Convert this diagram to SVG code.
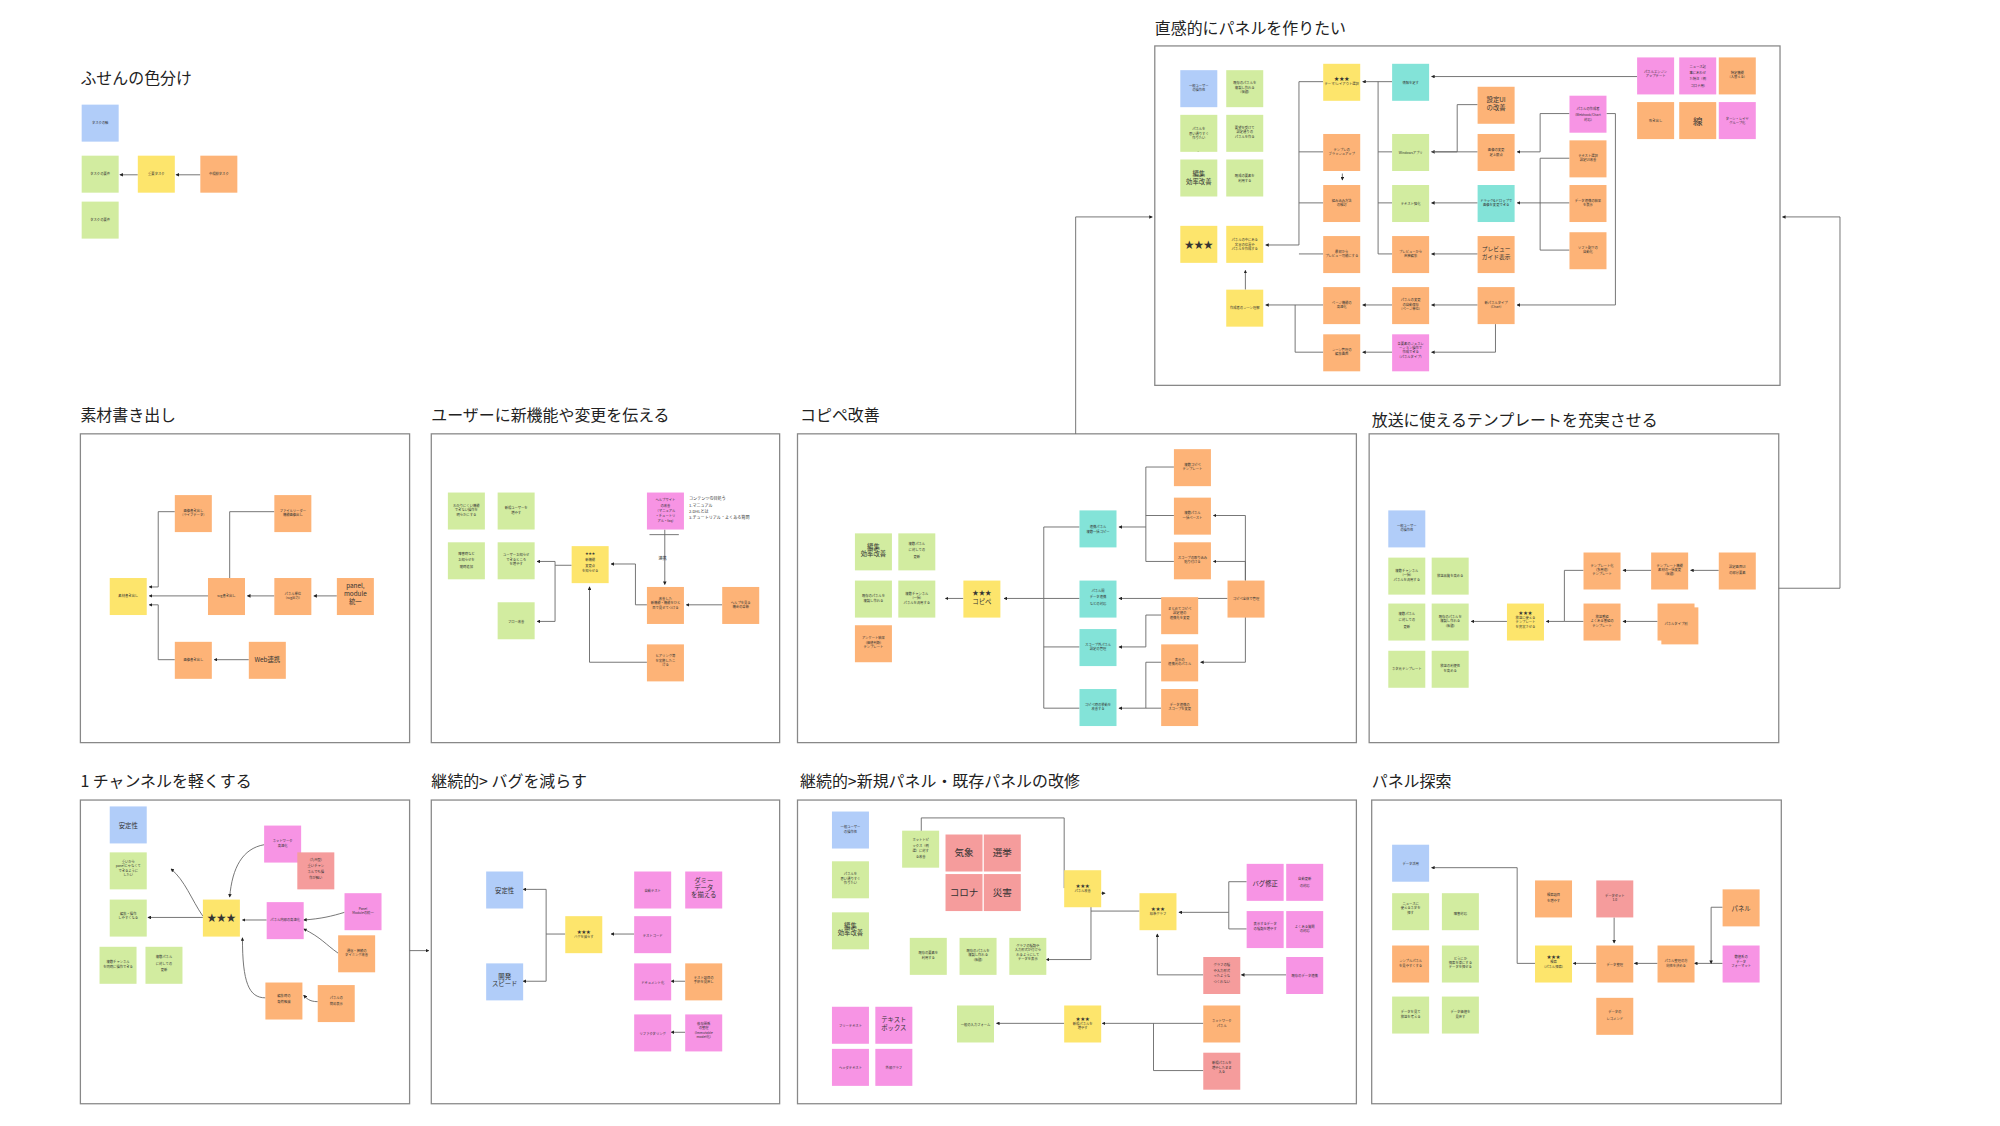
<svg xmlns="http://www.w3.org/2000/svg" width="2000" height="1126" viewBox="0 0 2000 1126">
<style>
.b{fill:#b1cdf9}.g{fill:#d2eca0}.y{fill:#fde56c}.o{fill:#fdb377}.p{fill:#f794e4}.t{fill:#83e3d8}.r{fill:#f59c9c}
.fr{fill:#fff;stroke:#888;stroke-width:1}
text{font-family:"Noto Sans CJK JP","Liberation Sans",sans-serif;fill:#333;text-anchor:middle}
.h{font-size:12.5px;text-anchor:start;fill:#222}
.s{font-size:2.6px}.m{font-size:5px}.l{font-size:7.5px}.x{font-size:9px}
.c{fill:none;stroke:#666;stroke-width:0.7}
.n{font-size:3.2px;text-anchor:start}
</style>
<defs><marker id="a" viewBox="0 0 6 6" refX="5" refY="3" markerWidth="4" markerHeight="4" orient="auto"><path d="M0,0L6,3L0,6z" fill="#222"/></marker></defs>
<rect width="2000" height="1126" fill="#fff"/>
<g transform="scale(1.276)">
<g id="frames">
<rect class="fr" x="905" y="36" width="490" height="266"/>
<rect class="fr" x="63" y="340" width="258" height="242"/>
<rect class="fr" x="338" y="340" width="273" height="242"/>
<rect class="fr" x="625" y="340" width="438" height="242"/>
<rect class="fr" x="1073" y="340" width="321" height="242"/>
<rect class="fr" x="63" y="627" width="258" height="238"/>
<rect class="fr" x="338" y="627" width="273" height="238"/>
<rect class="fr" x="625" y="627" width="438" height="238"/>
<rect class="fr" x="1075" y="627" width="321" height="238"/>
<text class="h" x="63" y="66">ふせんの色分け</text>
<text class="h" x="905" y="27">直感的にパネルを作りたい</text>
<text class="h" x="63" y="330">素材書き出し</text>
<text class="h" x="338" y="330">ユーザーに新機能や変更を伝える</text>
<text class="h" x="627" y="330">コピペ改善</text>
<text class="h" x="1075" y="334">放送に使えるテンプレートを充実させる</text>
<text class="h" x="63" y="617">1 チャンネルを軽くする</text>
<text class="h" x="338" y="617">継続的&gt; バグを減らす</text>
<text class="h" x="627" y="617">継続的&gt;新規パネル・既存パネルの改修</text>
<text class="h" x="1075" y="617">パネル探索</text>
</g>
<g id="connectors">
<path class="c" d="M843,340V170H903" marker-end="url(#a)"/>
<path class="c" d="M1394,461H1442V170H1397" marker-end="url(#a)"/>
<path class="c" d="M321,745H336" marker-end="url(#a)"/>
<path class="c" d="M108,137H94" marker-end="url(#a)"/>
<path class="c" d="M157,137H138" marker-end="url(#a)"/>
<path class="c" d="M1283,60H1122" marker-end="url(#a)"/>
<path class="c" d="M1091,64H1068" marker-end="url(#a)"/>
<path class="c" d="M1091,119H1080V64M1091,159H1080M1091,199H1080V119"/>
<path class="c" d="M1037,64H1018V192H992" marker-end="url(#a)"/>
<path class="c" d="M1037,119H1018M1037,159H1018M1037,199H1018"/>
<path class="c" d="M1158,82H1142V119H1122" marker-end="url(#a)"/>
<path class="c" d="M1158,119H1122"/>
<path class="c" d="M1230,89H1207V119H1189" marker-end="url(#a)"/>
<path class="c" d="M1230,124H1207V196H1230M1230,159H1189" marker-end="url(#a)"/>
<path class="c" d="M1158,159H1122" marker-end="url(#a)"/>
<path class="c" d="M1158,199H1122" marker-end="url(#a)"/>
<path class="c" d="M1259,89H1266V239H1189" marker-end="url(#a)"/>
<path class="c" d="M1158,239H1122" marker-end="url(#a)"/>
<path class="c" d="M1091,239H1068" marker-end="url(#a)"/>
<path class="c" d="M1037,239H992" marker-end="url(#a)"/>
<path class="c" d="M1037,276H1015V239"/>
<path class="c" d="M1172,254V276H1122" marker-end="url(#a)"/>
<path class="c" d="M1091,276H1068" marker-end="url(#a)"/>
<path class="c" d="M976,227V212" marker-end="url(#a)"/>
<path class="c" d="M939,114V119" marker-end="url(#a)"/>
<path class="c" d="M1052,136V141" marker-end="url(#a)"/>
<path class="c" d="M264,467H246" marker-end="url(#a)"/>
<path class="c" d="M215,467H194" marker-end="url(#a)"/>
<path class="c" d="M163,467H117" marker-end="url(#a)"/>
<path class="c" d="M215,401H180V453"/>
<path class="c" d="M137,401H124V460H117" marker-end="url(#a)"/>
<path class="c" d="M137,517H124V474H117" marker-end="url(#a)"/>
<path class="c" d="M195,517H168" marker-end="url(#a)"/>
<path class="c" d="M521,415V458" marker-end="url(#a)"/>
<text class="n" x="516" y="439">連携</text>
<path class="c" d="M566,474H538" marker-end="url(#a)"/>
<path class="c" d="M507,474H498V442H479" marker-end="url(#a)"/>
<path class="c" d="M507,519H462V460" marker-end="url(#a)"/>
<path class="c" d="M448,443H435V440H421" marker-end="url(#a)"/>
<path class="c" d="M435,443V487H421" marker-end="url(#a)"/>
<path class="c" d="M509,419H532" stroke="#9bc3f0"/>
<path class="c" d="M755,469H741" marker-end="url(#a)"/>
<path class="c" d="M846,413H818V555H846M818,469H787" marker-end="url(#a)"/>
<path class="c" d="M846,469H818M846,507H818"/>
<path class="c" d="M920,366H898V413H877" marker-end="url(#a)"/>
<path class="c" d="M920,404H898M920,440H898V413"/>
<path class="c" d="M962,469H877" marker-end="url(#a)"/>
<path class="c" d="M976,455V404H951" marker-end="url(#a)"/>
<path class="c" d="M976,455V440H951" marker-end="url(#a)"/>
<path class="c" d="M976,483V519H941" marker-end="url(#a)"/>
<path class="c" d="M910,482H898V507H877" marker-end="url(#a)"/>
<path class="c" d="M910,519H898V555H877" marker-end="url(#a)"/>
<path class="c" d="M910,555H898"/>
<path class="c" d="M1347,447H1325" marker-end="url(#a)"/>
<path class="c" d="M1294,447H1272" marker-end="url(#a)"/>
<path class="c" d="M1299,487H1272" marker-end="url(#a)"/>
<path class="c" d="M1241,447H1226V487H1212" marker-end="url(#a)"/>
<path class="c" d="M1241,487H1226"/>
<path class="c" d="M1181,487H1153" marker-end="url(#a)"/>
<path class="c" d="M207,662C190,665 182,680 180,703" marker-end="url(#a)"/>
<path class="c" d="M159,718C150,705 145,690 134,681" marker-end="url(#a)"/>
<path class="c" d="M159,719H116" marker-end="url(#a)"/>
<path class="c" d="M209,721H190" marker-end="url(#a)"/>
<path class="c" d="M270,715C260,718 252,720 238,721" marker-end="url(#a)"/>
<path class="c" d="M265,747C255,740 252,735 238,728" marker-end="url(#a)"/>
<path class="c" d="M208,782C195,782 190,770 190,735" marker-end="url(#a)"/>
<path class="c" d="M249,785C242,785 240,782 238,780" marker-end="url(#a)"/>
<path class="c" d="M497,732H479" marker-end="url(#a)"/>
<path class="c" d="M443,732H428V697H410" marker-end="url(#a)"/>
<path class="c" d="M428,732V769H410" marker-end="url(#a)"/>
<path class="c" d="M537,769H526" marker-end="url(#a)"/>
<path class="c" d="M537,809H526" marker-end="url(#a)"/>
<path class="c" d="M834,696V641H722V657" marker-end="url(#a)"/>
<path class="c" d="M893,714H855V700H866" marker-end="url(#a)"/>
<path class="c" d="M855,714V752H820" marker-end="url(#a)"/>
<path class="c" d="M977,691H963V715H924" marker-end="url(#a)"/>
<path class="c" d="M977,728H963V715"/>
<path class="c" d="M1008,764H973" marker-end="url(#a)"/>
<path class="c" d="M943,764H907V732" marker-end="url(#a)"/>
<path class="c" d="M943,802H864" marker-end="url(#a)"/>
<path class="c" d="M943,839H904V802"/>
<path class="c" d="M834,802H781" marker-end="url(#a)"/>
<path class="c" d="M1299,755H1281" marker-end="url(#a)"/>
<path class="c" d="M1350,755H1328" marker-end="url(#a)"/>
<path class="c" d="M1350,711H1341V755" marker-end="url(#a)"/>
<path class="c" d="M1251,755H1233" marker-end="url(#a)"/>
<path class="c" d="M1265,719V739" marker-end="url(#a)"/>
<path class="c" d="M1203,755H1189V680H1122" marker-end="url(#a)"/>
</g>
<g id="legend">
<g id="lg1"><rect class="b" x="64" y="82" width="29" height="29"/><text class="s" x="78.5" y="97">タスクの軸</text></g>
<g id="lg2"><rect class="g" x="64" y="122" width="29" height="29"/><text class="s" x="78.5" y="137">タスクの要件</text></g>
<g id="lg3"><rect class="y" x="108" y="122" width="29" height="29"/><text class="s" x="122.5" y="137">重要タスク</text></g>
<g id="lg4"><rect class="o" x="157" y="122" width="29" height="29"/><text class="s" x="171.5" y="137">中規模タスク</text></g>
<g id="lg5"><rect class="g" x="64" y="158" width="29" height="29"/><text class="s" x="78.5" y="173">タスクの要件</text></g>
</g>
<g id="intuitive">
<g id="i1"><rect class="b" x="925" y="55" width="29" height="29"/><text class="s" x="939.5" y="68"><tspan x="939.5">一般ユーザー</tspan><tspan x="939.5" dy="3.5">の操作性</tspan></text></g>
<g id="i2"><rect class="g" x="925" y="90" width="29" height="29"/><text class="s" x="939.5" y="102"><tspan x="939.5">パネルを</tspan><tspan x="939.5" dy="3.5">思い通りすぐ</tspan><tspan x="939.5" dy="3.5">作りたい</tspan></text></g>
<g id="i3"><rect class="g" x="925" y="125" width="29" height="29"/><text class="m" x="939.5" y="138"><tspan x="939.5">編集</tspan><tspan x="939.5" dy="6">効率改善</tspan></text></g>
<g id="i4"><rect class="y" x="925" y="177" width="29" height="29"/><text class="l" x="939.5" y="194">★★★</text></g>
<g id="i5"><rect class="g" x="961" y="55" width="29" height="29"/><text class="s" x="975.5" y="66"><tspan x="975.5">既存のパネルを</tspan><tspan x="975.5" dy="3.5">複製し作れる</tspan><tspan x="975.5" dy="3.5">(仮題)</tspan></text></g>
<g id="i6"><rect class="g" x="961" y="90" width="29" height="29"/><text class="s" x="975.5" y="101"><tspan x="975.5">要望を受けて</tspan><tspan x="975.5" dy="3.5">設定通りの</tspan><tspan x="975.5" dy="3.5">パネルを作る</tspan></text></g>
<g id="i7"><rect class="g" x="961" y="125" width="29" height="29"/><text class="s" x="975.5" y="139"><tspan x="975.5">既成の要素を</tspan><tspan x="975.5" dy="3.5">利用する</tspan></text></g>
<g id="i8"><rect class="y" x="961" y="177" width="29" height="29"/><text class="s" x="975.5" y="189"><tspan x="975.5">パネルの中にある</tspan><tspan x="975.5" dy="3.5">文言の位置や</tspan><tspan x="975.5" dy="3.5">パネルを作成する</tspan></text></g>
<g id="i9"><rect class="y" x="961" y="227" width="29" height="29"/><text class="s" x="975.5" y="242">作成者のシーン理解</text></g>
<g id="i10"><rect class="y" x="1037" y="50" width="29" height="29"/><text class="s" x="1051.5" y="63"><tspan x="1051.5" font-size="4">★★★</tspan><tspan x="1051.5" dy="3.5">テーマ/レイアウト選択</tspan></text></g>
<g id="i11"><rect class="o" x="1037" y="105" width="29" height="29"/><text class="s" x="1051.5" y="118"><tspan x="1051.5">テンプレの</tspan><tspan x="1051.5" dy="3.5">ブラッシュアップ</tspan></text></g>
<g id="i12"><rect class="o" x="1037" y="145" width="29" height="29"/><text class="s" x="1051.5" y="158"><tspan x="1051.5">組み込み方法</tspan><tspan x="1051.5" dy="3.5">の検討</tspan></text></g>
<g id="i13"><rect class="o" x="1037" y="185" width="29" height="29"/><text class="s" x="1051.5" y="198"><tspan x="1051.5">最初から</tspan><tspan x="1051.5" dy="3.5">プレビュー可能にする</tspan></text></g>
<g id="i14"><rect class="o" x="1037" y="225" width="29" height="29"/><text class="s" x="1051.5" y="238"><tspan x="1051.5">ページ機能の</tspan><tspan x="1051.5" dy="3.5">高速化</tspan></text></g>
<g id="i15"><rect class="o" x="1037" y="262" width="29" height="29"/><text class="s" x="1051.5" y="275"><tspan x="1051.5">シーン管理の</tspan><tspan x="1051.5" dy="3.5">編集画面</tspan></text></g>
<g id="i16"><rect class="t" x="1091" y="50" width="29" height="29"/><text class="s" x="1105.5" y="66">情報を足す</text></g>
<g id="i17"><rect class="g" x="1091" y="105" width="29" height="29"/><text class="s" x="1105.5" y="121">Windowsアプリ</text></g>
<g id="i18"><rect class="g" x="1091" y="145" width="29" height="29"/><text class="s" x="1105.5" y="161">テキスト強化</text></g>
<g id="i19"><rect class="o" x="1091" y="185" width="29" height="29"/><text class="s" x="1105.5" y="198"><tspan x="1105.5">プレビューから</tspan><tspan x="1105.5" dy="3.5">直接編集</tspan></text></g>
<g id="i20"><rect class="o" x="1091" y="225" width="29" height="29"/><text class="s" x="1105.5" y="236"><tspan x="1105.5">パネルの変更</tspan><tspan x="1105.5" dy="3.5">の自動保存</tspan><tspan x="1105.5" dy="3.5">(ページ単位)</tspan></text></g>
<g id="i21"><rect class="p" x="1091" y="262" width="29" height="29"/><text class="s" x="1105.5" y="270"><tspan x="1105.5">各要素のジェネレ</tspan><tspan x="1105.5" dy="3.5">ーション操作で</tspan><tspan x="1105.5" dy="3.5">作成できる</tspan><tspan x="1105.5" dy="3.5">(パネルタイプ)</tspan></text></g>
<g id="i22"><rect class="o" x="1158" y="68" width="29" height="29"/><text class="m" x="1172.5" y="80"><tspan x="1172.5">設定UI</tspan><tspan x="1172.5" dy="6">の改善</tspan></text></g>
<g id="i23"><rect class="o" x="1158" y="105" width="29" height="29"/><text class="s" x="1172.5" y="118" font-size="3.6"><tspan x="1172.5">画像の変更</tspan><tspan x="1172.5" dy="4.5">足上限点</tspan></text></g>
<g id="i24"><rect class="t" x="1158" y="145" width="29" height="29"/><text class="s" x="1172.5" y="158"><tspan x="1172.5">ドラッグ&amp;ドロップで</tspan><tspan x="1172.5" dy="3.5">画像を変更できる</tspan></text></g>
<g id="i25"><rect class="o" x="1158" y="185" width="29" height="29"/><text class="m" x="1172.5" y="197"><tspan x="1172.5" font-size="4.5">プレビュー</tspan><tspan x="1172.5" dy="6" font-size="4.5">ガイド表示</tspan></text></g>
<g id="i26"><rect class="o" x="1158" y="225" width="29" height="29"/><text class="s" x="1172.5" y="238"><tspan x="1172.5">新パネルタイプ</tspan><tspan x="1172.5" dy="3.5">(Chart)</tspan></text></g>
<g id="i27"><rect class="p" x="1230" y="75" width="29" height="29"/><text class="s" x="1244.5" y="86"><tspan x="1244.5">パネルの作成者</tspan><tspan x="1244.5" dy="5">(Webhook/Chart</tspan><tspan x="1244.5" dy="3.5">対応)</tspan></text></g>
<g id="i28"><rect class="o" x="1230" y="110" width="29" height="29"/><text class="s" x="1244.5" y="123"><tspan x="1244.5">テキスト選択</tspan><tspan x="1244.5" dy="3.5">設定UI改善</tspan></text></g>
<g id="i29"><rect class="o" x="1230" y="145" width="29" height="29"/><text class="s" x="1244.5" y="158"><tspan x="1244.5">データ連携の結果</tspan><tspan x="1244.5" dy="3.5">を表示</tspan></text></g>
<g id="i30"><rect class="o" x="1230" y="182" width="29" height="29"/><text class="s" x="1244.5" y="195"><tspan x="1244.5">ソフト配下の</tspan><tspan x="1244.5" dy="3.5">自動化</tspan></text></g>
<g id="i31"><rect class="p" x="1283" y="45" width="29" height="29"/><text class="s" x="1297.5" y="57"><tspan x="1297.5">パネルエンジン</tspan><tspan x="1297.5" dy="3.5">アップデート</tspan></text></g>
<g id="i32"><rect class="p" x="1316" y="45" width="29" height="29"/><text class="s" x="1330.5" y="53" font-size="4"><tspan x="1330.5">ニュース記</tspan><tspan x="1330.5" dy="5">事にあわせ</tspan><tspan x="1330.5" dy="5">た特注（例</tspan><tspan x="1330.5" dy="5">コロナ用)</tspan></text></g>
<g id="i33"><rect class="o" x="1347" y="45" width="29" height="29"/><text class="s" x="1361.5" y="58"><tspan x="1361.5">特定機能</tspan><tspan x="1361.5" dy="3.5">(入替える)</tspan></text></g>
<g id="i34"><rect class="o" x="1283" y="80" width="29" height="29"/><text class="s" x="1297.5" y="96" font-size="4.5">吹き出し</text></g>
<g id="i35"><rect class="o" x="1316" y="80" width="29" height="29"/><text class="l" x="1330.5" y="98">線</text></g>
<g id="i36"><rect class="p" x="1347" y="80" width="29" height="29"/><text class="s" x="1361.5" y="94"><tspan x="1361.5">ターン・レイヤ</tspan><tspan x="1361.5" dy="3.5">グループ化</tspan></text></g>
</g>
<g id="material">
<g id="m1"><rect class="y" x="86" y="453" width="29" height="29"/><text class="s" x="100.5" y="468">素材書き出し</text></g>
<g id="m2"><rect class="o" x="137" y="388" width="29" height="29"/><text class="s" x="151.5" y="401"><tspan x="151.5">画像書き出し</tspan><tspan x="151.5" dy="3.5">(ライブデータ)</tspan></text></g>
<g id="m3"><rect class="o" x="215" y="388" width="29" height="29"/><text class="s" x="229.5" y="401"><tspan x="229.5">ファイルリーダー</tspan><tspan x="229.5" dy="3.5">機能画像出し</tspan></text></g>
<g id="m4"><rect class="o" x="163" y="453" width="29" height="29"/><text class="s" x="177.5" y="468">svg書き出し</text></g>
<g id="m5"><rect class="o" x="215" y="453" width="29" height="29"/><text class="s" x="229.5" y="466"><tspan x="229.5">パネル単位</tspan><tspan x="229.5" dy="3.5">(svg出力)</tspan></text></g>
<g id="m6"><rect class="o" x="264" y="453" width="29" height="29"/><text class="m" x="278.5" y="461" font-size="4.6"><tspan x="278.5">panel,</tspan><tspan x="278.5" dy="6">module</tspan><tspan x="278.5" dy="6">統一</tspan></text></g>
<g id="m7"><rect class="o" x="137" y="503" width="29" height="29"/><text class="s" x="151.5" y="518">画像書き出し</text></g>
<g id="m8"><rect class="o" x="195" y="503" width="29" height="29"/><text class="m" x="209.5" y="519" font-size="4.6">Web連携</text></g>
</g>
<g id="users">
<g id="u1"><rect class="g" x="351" y="386" width="29" height="29"/><text class="s" x="365.5" y="397"><tspan x="365.5">わかりにくい機能</tspan><tspan x="365.5" dy="3.5">できない操作を</tspan><tspan x="365.5" dy="3.5">明らかにする</tspan></text></g>
<g id="u2"><rect class="g" x="390" y="386" width="29" height="29"/><text class="s" x="404.5" y="399"><tspan x="404.5">新規ユーザーを</tspan><tspan x="404.5" dy="3.5">増やす</tspan></text></g>
<g id="u3"><rect class="g" x="351" y="425" width="29" height="29"/><text class="s" x="365.5" y="435" font-size="3.6"><tspan x="365.5">障害時など</tspan><tspan x="365.5" dy="5">お知らせを</tspan><tspan x="365.5" dy="5">随時追加</tspan></text></g>
<g id="u4"><rect class="g" x="390" y="425" width="29" height="29"/><text class="s" x="404.5" y="436"><tspan x="404.5">ユーザーお知らせ</tspan><tspan x="404.5" dy="3.5">できるところ</tspan><tspan x="404.5" dy="3.5">を増やす</tspan></text></g>
<g id="u5"><rect class="g" x="390" y="472" width="29" height="29"/><text class="s" x="404.5" y="488" font-size="4">フロー改善</text></g>
<g id="u6"><rect class="y" x="448" y="428" width="29" height="29"/><text class="s" x="462.5" y="435" font-size="3.4"><tspan x="462.5">★★★</tspan><tspan x="462.5" dy="4.5">新機能</tspan><tspan x="462.5" dy="4.5">変更点</tspan><tspan x="462.5" dy="4.5">を知らせる</tspan></text></g>
<g id="u7"><rect class="p" x="507" y="386" width="29" height="29"/><text class="s" x="521.5" y="393"><tspan x="521.5">ヘルプサイト</tspan><tspan x="521.5" dy="4">の改善</tspan><tspan x="521.5" dy="4">（マニュアル</tspan><tspan x="521.5" dy="4">・チュートリ</tspan><tspan x="521.5" dy="4">アル・faq)</tspan></text></g>
<text class="n" x="540" y="392"><tspan x="540">コンテンツの目処う</tspan><tspan x="540" dy="5">1.マニュアル</tspan><tspan x="540" dy="5">2.DHLとは</tspan><tspan x="540" dy="5">3.チュートリアル・よくある質問</tspan></text>
<g id="u8"><rect class="o" x="507" y="460" width="29" height="29"/><text class="s" x="521.5" y="470"><tspan x="521.5">改善した</tspan><tspan x="521.5" dy="3.5">新機能・機能をひと</tspan><tspan x="521.5" dy="3.5">目で見せてつける</tspan></text></g>
<g id="u9"><rect class="o" x="566" y="460" width="29" height="29"/><text class="s" x="580.5" y="473"><tspan x="580.5">ヘルプを見る</tspan><tspan x="580.5" dy="3.5">機会の革新</tspan></text></g>
<g id="u10"><rect class="o" x="507" y="505" width="29" height="29"/><text class="s" x="521.5" y="515"><tspan x="521.5">ヒアリング等</tspan><tspan x="521.5" dy="3.5">を実施したこ</tspan><tspan x="521.5" dy="3.5">ける</tspan></text></g>
</g>
<g id="copipe">
<g id="cp1"><rect class="g" x="670" y="418" width="29" height="29"/><text class="m" x="684.5" y="430" font-size="4.2"><tspan x="684.5">編集</tspan><tspan x="684.5" dy="5.5">効率改善</tspan></text></g>
<g id="cp2"><rect class="g" x="704" y="418" width="29" height="29"/><text class="s" x="718.5" y="427" font-size="3.6"><tspan x="718.5">複数パネル</tspan><tspan x="718.5" dy="5">に対しての</tspan><tspan x="718.5" dy="5">更新</tspan></text></g>
<g id="cp3"><rect class="g" x="670" y="455" width="29" height="29"/><text class="s" x="684.5" y="468"><tspan x="684.5">既存のパネルを</tspan><tspan x="684.5" dy="3.5">複製し作れる</tspan></text></g>
<g id="cp4"><rect class="g" x="704" y="455" width="29" height="29"/><text class="s" x="718.5" y="466"><tspan x="718.5">複数チャンネル</tspan><tspan x="718.5" dy="3.5">(一括)</tspan><tspan x="718.5" dy="3.5">パネルを流用する</tspan></text></g>
<g id="cp5"><rect class="o" x="670" y="490" width="29" height="29"/><text class="s" x="684.5" y="501"><tspan x="684.5">アンケート結果</tspan><tspan x="684.5" dy="3.5">(価値判断)</tspan><tspan x="684.5" dy="3.5">テンプレート</tspan></text></g>
<g id="cp6"><rect class="y" x="755" y="455" width="29" height="29"/><text class="m" x="769.5" y="466" font-size="5.2"><tspan x="769.5">★★★</tspan><tspan x="769.5" dy="7">コピペ</tspan></text></g>
<g id="cp7"><rect class="t" x="846" y="400" width="29" height="29"/><text class="s" x="860.5" y="414"><tspan x="860.5">連携パネル</tspan><tspan x="860.5" dy="3.5">複数一括コピー</tspan></text></g>
<g id="cp8"><rect class="t" x="846" y="455" width="29" height="29"/><text class="s" x="860.5" y="464" font-size="3.6"><tspan x="860.5">パネル間</tspan><tspan x="860.5" dy="5">データ連携</tspan><tspan x="860.5" dy="5">などの対応</tspan></text></g>
<g id="cp9"><rect class="t" x="846" y="493" width="29" height="29"/><text class="s" x="860.5" y="506"><tspan x="860.5">スコープ外パネル</tspan><tspan x="860.5" dy="3.5">設定の管理</tspan></text></g>
<g id="cp10"><rect class="t" x="846" y="540" width="29" height="29"/><text class="s" x="860.5" y="553"><tspan x="860.5">コピペ時の挙動を</tspan><tspan x="860.5" dy="3.5">改善する</tspan></text></g>
<g id="cp11"><rect class="o" x="920" y="352" width="29" height="29"/><text class="s" x="934.5" y="365"><tspan x="934.5">複数コピペ</tspan><tspan x="934.5" dy="3.5">テンプレート</tspan></text></g>
<g id="cp12"><rect class="o" x="920" y="390" width="29" height="29"/><text class="s" x="934.5" y="403"><tspan x="934.5">複数パネル</tspan><tspan x="934.5" dy="3.5">一括ペースト</tspan></text></g>
<g id="cp13"><rect class="o" x="920" y="425" width="29" height="29"/><text class="s" x="934.5" y="438"><tspan x="934.5">スコープの取り込み</tspan><tspan x="934.5" dy="3.5">貼り付ける</tspan></text></g>
<g id="cp14"><rect class="o" x="910" y="468" width="29" height="29"/><text class="s" x="924.5" y="478"><tspan x="924.5">まとめてコピペ</tspan><tspan x="924.5" dy="3.5">設定値の</tspan><tspan x="924.5" dy="3.5">連携先を変更</tspan></text></g>
<g id="cp15"><rect class="o" x="910" y="505" width="29" height="29"/><text class="s" x="924.5" y="518"><tspan x="924.5">表示の</tspan><tspan x="924.5" dy="3.5">連携元のパネル</tspan></text></g>
<g id="cp16"><rect class="o" x="910" y="540" width="29" height="29"/><text class="s" x="924.5" y="553"><tspan x="924.5">データ連携の</tspan><tspan x="924.5" dy="3.5">スコープを変更</tspan></text></g>
<g id="cp17"><rect class="o" x="962" y="455" width="29" height="29"/><text class="s" x="976.5" y="470">コピペ全体で管理</text></g>
</g>
<g id="broadcast">
<g id="bc1"><rect class="b" x="1088" y="400" width="29" height="29"/><text class="s" x="1102.5" y="413"><tspan x="1102.5">一般ユーザー</tspan><tspan x="1102.5" dy="3.5">の操作性</tspan></text></g>
<g id="bc2"><rect class="g" x="1088" y="437" width="29" height="29"/><text class="s" x="1102.5" y="448"><tspan x="1102.5">複数チャンネル</tspan><tspan x="1102.5" dy="3.5">(一括)</tspan><tspan x="1102.5" dy="3.5">パネルを流用する</tspan></text></g>
<g id="bc3"><rect class="g" x="1122" y="437" width="29" height="29"/><text class="s" x="1136.5" y="452">放送品質を高める</text></g>
<g id="bc4"><rect class="g" x="1088" y="473" width="29" height="29"/><text class="s" x="1102.5" y="482" font-size="3.6"><tspan x="1102.5">複数パネル</tspan><tspan x="1102.5" dy="5">に対しての</tspan><tspan x="1102.5" dy="5">更新</tspan></text></g>
<g id="bc5"><rect class="g" x="1122" y="473" width="29" height="29"/><text class="s" x="1136.5" y="484"><tspan x="1136.5">既存のパネルを</tspan><tspan x="1136.5" dy="3.5">複製し作れる</tspan><tspan x="1136.5" dy="3.5">(仮題)</tspan></text></g>
<g id="bc6"><rect class="g" x="1088" y="510" width="29" height="29"/><text class="s" x="1102.5" y="525">ネタ元テンプレート</text></g>
<g id="bc7"><rect class="g" x="1122" y="510" width="29" height="29"/><text class="s" x="1136.5" y="523"><tspan x="1136.5">放送の利便性</tspan><tspan x="1136.5" dy="3.5">を高める</tspan></text></g>
<g id="bc8"><rect class="y" x="1181" y="473" width="29" height="29"/><text class="s" x="1195.5" y="481"><tspan x="1195.5" font-size="3.6">★★★</tspan><tspan x="1195.5" dy="4">放送に使える</tspan><tspan x="1195.5" dy="3.5">テンプレート</tspan><tspan x="1195.5" dy="3.5">を充実させる</tspan></text></g>
<g id="bc9"><rect class="o" x="1241" y="433" width="29" height="29"/><text class="s" x="1255.5" y="444"><tspan x="1255.5">テンプレート化</tspan><tspan x="1255.5" dy="3.5">(多用途)</tspan><tspan x="1255.5" dy="3.5">テンプレート</tspan></text></g>
<g id="bc10"><rect class="o" x="1241" y="473" width="29" height="29"/><text class="s" x="1255.5" y="484"><tspan x="1255.5">放送番組</tspan><tspan x="1255.5" dy="3.5">よくある番組の</tspan><tspan x="1255.5" dy="3.5">テンプレート</tspan></text></g>
<g id="bc11"><rect class="o" x="1294" y="433" width="29" height="29"/><text class="s" x="1308.5" y="444"><tspan x="1308.5">テンプレート機能</tspan><tspan x="1308.5" dy="3.5">素材の一括変更</tspan><tspan x="1308.5" dy="3.5">(仮題)</tspan></text></g>
<g id="bc12"><rect class="o" x="1302" y="476" width="29" height="29"/><rect class="o" x="1299" y="473" width="29" height="29"/><text class="s" x="1313.5" y="490">パネルタイプ別</text></g>
<g id="bc13"><rect class="o" x="1347" y="433" width="29" height="29"/><text class="s" x="1361.5" y="445" font-size="3.8"><tspan x="1361.5">設定画面UI</tspan><tspan x="1361.5" dy="5">の部分要素</tspan></text></g>
</g>
<g id="channel">
<g id="ch1"><rect class="b" x="86" y="632" width="29" height="29"/><text class="m" x="100.5" y="649" font-size="5">安定性</text></g>
<g id="ch2"><rect class="g" x="86" y="668" width="29" height="29"/><text class="s" x="100.5" y="676"><tspan x="100.5">重いから</tspan><tspan x="100.5" dy="3.5">panelじゃなくて</tspan><tspan x="100.5" dy="3.5">できるように</tspan><tspan x="100.5" dy="3.5">したい</tspan></text></g>
<g id="ch3"><rect class="g" x="86" y="705" width="29" height="29"/><text class="s" x="100.5" y="717"><tspan x="100.5">編集・操作</tspan><tspan x="100.5" dy="3.5">しやすくなる</tspan></text></g>
<g id="ch4"><rect class="g" x="78" y="742" width="29" height="29"/><text class="s" x="92.5" y="755"><tspan x="92.5">複数チャンネル</tspan><tspan x="92.5" dy="3.5">を同時に操作できる</tspan></text></g>
<g id="ch5"><rect class="g" x="114" y="742" width="29" height="29"/><text class="s" x="128.5" y="751" font-size="3.6"><tspan x="128.5">複数パネル</tspan><tspan x="128.5" dy="5">に対しての</tspan><tspan x="128.5" dy="5">更新</tspan></text></g>
<g id="ch6"><rect class="y" x="159" y="705" width="29" height="29"/><text class="l" x="173.5" y="722" font-size="6">★★★</text></g>
<g id="ch7"><rect class="p" x="207" y="647" width="29" height="29"/><text class="s" x="221.5" y="660"><tspan x="221.5">ネットワーク</tspan><tspan x="221.5" dy="3.5">高速化</tspan></text></g>
<g id="ch8"><rect class="r" x="233" y="668" width="29" height="29"/><text class="s" x="247.5" y="675" font-size="3.4"><tspan x="247.5">(九州型)</tspan><tspan x="247.5" dy="4.5">重いチャン</tspan><tspan x="247.5" dy="4.5">ネルでも操</tspan><tspan x="247.5" dy="4.5">作が軽い</tspan></text></g>
<g id="ch9"><rect class="p" x="209" y="707" width="29" height="29"/><text class="s" x="223.5" y="722">パネル内部の高速化</text></g>
<g id="ch10"><rect class="p" x="270" y="700" width="29" height="29"/><text class="s" x="284.5" y="713"><tspan x="284.5">Panel</tspan><tspan x="284.5" dy="3.5">Moduleの統一</tspan></text></g>
<g id="ch11"><rect class="o" x="265" y="733" width="29" height="29"/><text class="s" x="279.5" y="746"><tspan x="279.5">通信・接続の</tspan><tspan x="279.5" dy="3.5">タイミング改善</tspan></text></g>
<g id="ch12"><rect class="o" x="208" y="770" width="29" height="29"/><text class="s" x="222.5" y="781" font-size="3.8"><tspan x="222.5">編集時の</tspan><tspan x="222.5" dy="5">負荷軽減</tspan></text></g>
<g id="ch13"><rect class="o" x="249" y="772" width="29" height="29"/><text class="s" x="263.5" y="783" font-size="3.8"><tspan x="263.5">パネルの</tspan><tspan x="263.5" dy="5">簡易表示</tspan></text></g>
</g>
<g id="bugs">
<g id="bg1"><rect class="b" x="381" y="683" width="29" height="29"/><text class="m" x="395.5" y="700" font-size="4.6">安定性</text></g>
<g id="bg2"><rect class="b" x="381" y="755" width="29" height="29"/><text class="m" x="395.5" y="767" font-size="4.4"><tspan x="395.5">開発</tspan><tspan x="395.5" dy="6">スピード</tspan></text></g>
<g id="bg3"><rect class="y" x="443" y="718" width="29" height="29"/><text class="s" x="457.5" y="731"><tspan x="457.5" font-size="3.6">★★★</tspan><tspan x="457.5" dy="4">バグを減らす</tspan></text></g>
<g id="bg4"><rect class="p" x="497" y="683" width="29" height="29"/><text class="s" x="511.5" y="699" font-size="3.4">自動テスト</text></g>
<g id="bg5"><rect class="p" x="537" y="683" width="29" height="29"/><text class="m" x="551.5" y="692" font-size="4"><tspan x="551.5">ダミー</tspan><tspan x="551.5" dy="5.5">データ</tspan><tspan x="551.5" dy="5.5">を揃える</tspan></text></g>
<g id="bg6"><rect class="p" x="497" y="718" width="29" height="29"/><text class="s" x="511.5" y="734">テストコード</text></g>
<g id="bg7"><rect class="p" x="497" y="755" width="29" height="29"/><text class="s" x="511.5" y="771">ドキュメント化</text></g>
<g id="bg8"><rect class="o" x="537" y="755" width="29" height="29"/><text class="s" x="551.5" y="767"><tspan x="551.5">テスト項目の</tspan><tspan x="551.5" dy="3.5">手順を見直し</tspan></text></g>
<g id="bg9"><rect class="p" x="497" y="795" width="29" height="29"/><text class="s" x="511.5" y="811">リファクタリング</text></g>
<g id="bg10"><rect class="p" x="537" y="795" width="29" height="29"/><text class="s" x="551.5" y="803"><tspan x="551.5">依存関係</tspan><tspan x="551.5" dy="3.5">の整理</tspan><tspan x="551.5" dy="3.5">(Immutable</tspan><tspan x="551.5" dy="3.5">model化)</tspan></text></g>
</g>
<g id="newpanel">
<g id="np1"><rect class="b" x="652" y="636" width="29" height="29"/><text class="s" x="666.5" y="649"><tspan x="666.5">一般ユーザー</tspan><tspan x="666.5" dy="3.5">の操作性</tspan></text></g>
<g id="np2"><rect class="g" x="652" y="675" width="29" height="29"/><text class="s" x="666.5" y="686"><tspan x="666.5">パネルを</tspan><tspan x="666.5" dy="3.5">思い通りすぐ</tspan><tspan x="666.5" dy="3.5">作りたい</tspan></text></g>
<g id="np3"><rect class="g" x="652" y="715" width="29" height="29"/><text class="m" x="666.5" y="727" font-size="4.2"><tspan x="666.5">編集</tspan><tspan x="666.5" dy="5.5">効率改善</tspan></text></g>
<g id="np4"><rect class="g" x="707" y="651" width="29" height="29"/><text class="s" x="721.5" y="659" font-size="3.4"><tspan x="721.5">ホットトピ</tspan><tspan x="721.5" dy="4.5">ックス（例</tspan><tspan x="721.5" dy="4.5">選）に対す</tspan><tspan x="721.5" dy="4.5">る改善</tspan></text></g>
<g id="np5"><rect class="r" x="741" y="654" width="29" height="29"/><text class="l" x="755.5" y="671">気象</text></g>
<g id="np6"><rect class="r" x="771" y="654" width="29" height="29"/><text class="l" x="785.5" y="671">選挙</text></g>
<g id="np7"><rect class="r" x="741" y="685" width="29" height="29"/><text class="l" x="755.5" y="702">コロナ</text></g>
<g id="np8"><rect class="r" x="771" y="685" width="29" height="29"/><text class="l" x="785.5" y="702">災害</text></g>
<g id="np9"><rect class="y" x="834" y="682" width="29" height="29"/><text class="s" x="848.5" y="695"><tspan x="848.5" font-size="3.6">★★★</tspan><tspan x="848.5" dy="4">パネル改善</tspan></text></g>
<g id="np10"><rect class="y" x="893" y="700" width="29" height="29"/><text class="s" x="907.5" y="713"><tspan x="907.5" font-size="3.6">★★★</tspan><tspan x="907.5" dy="4">標準グラフ</tspan></text></g>
<g id="np11"><rect class="p" x="977" y="677" width="29" height="29"/><text class="m" x="991.5" y="694" font-size="4.2">バグ修正</text></g>
<g id="np12"><rect class="p" x="1008" y="677" width="29" height="29"/><text class="s" x="1022.5" y="690" font-size="3.8"><tspan x="1022.5">自動更新</tspan><tspan x="1022.5" dy="5">の対応</tspan></text></g>
<g id="np13"><rect class="p" x="977" y="714" width="29" height="29"/><text class="s" x="991.5" y="725"><tspan x="991.5">表示するデータ</tspan><tspan x="991.5" dy="3.5">の種類を増やす</tspan></text></g>
<g id="np14"><rect class="p" x="1008" y="714" width="29" height="29"/><text class="s" x="1022.5" y="727"><tspan x="1022.5">よくある質問</tspan><tspan x="1022.5" dy="3.5">の対応</tspan></text></g>
<g id="np15"><rect class="g" x="713" y="735" width="29" height="29"/><text class="s" x="727.5" y="748"><tspan x="727.5">既存の要素を</tspan><tspan x="727.5" dy="3.5">利用する</tspan></text></g>
<g id="np16"><rect class="g" x="752" y="735" width="29" height="29"/><text class="s" x="766.5" y="746"><tspan x="766.5">既存のパネルを</tspan><tspan x="766.5" dy="3.5">複製し作れる</tspan><tspan x="766.5" dy="3.5">(仮題)</tspan></text></g>
<g id="np17"><rect class="g" x="791" y="735" width="29" height="29"/><text class="s" x="805.5" y="742"><tspan x="805.5">グラフの種類や</tspan><tspan x="805.5" dy="3.5">入力形式が付けら</tspan><tspan x="805.5" dy="3.5">れるようにして</tspan><tspan x="805.5" dy="3.5">データを表示</tspan></text></g>
<g id="np18"><rect class="r" x="943" y="750" width="29" height="29"/><text class="s" x="957.5" y="757" font-size="3.4"><tspan x="957.5">グラフの種</tspan><tspan x="957.5" dy="4.5">や入力形式</tspan><tspan x="957.5" dy="4.5">ったような</tspan><tspan x="957.5" dy="4.5">つくれない</tspan></text></g>
<g id="np19"><rect class="p" x="1008" y="750" width="29" height="29"/><text class="s" x="1022.5" y="766">既存のデータ連携</text></g>
<g id="np20"><rect class="p" x="652" y="789" width="29" height="29"/><text class="s" x="666.5" y="805">フリーテキスト</text></g>
<g id="np21"><rect class="p" x="686" y="789" width="29" height="29"/><text class="m" x="700.5" y="801" font-size="4.4"><tspan x="700.5">テキスト</tspan><tspan x="700.5" dy="6">ボックス</tspan></text></g>
<g id="np22"><rect class="p" x="652" y="822" width="29" height="29"/><text class="s" x="666.5" y="838">ヘッダテキスト</text></g>
<g id="np23"><rect class="p" x="686" y="822" width="29" height="29"/><text class="s" x="700.5" y="838">外部グラフ</text></g>
<g id="np24"><rect class="g" x="750" y="788" width="29" height="29"/><text class="s" x="764.5" y="804">一般の入力フォーム</text></g>
<g id="np25"><rect class="y" x="834" y="788" width="29" height="29"/><text class="s" x="848.5" y="799"><tspan x="848.5" font-size="3.6">★★★</tspan><tspan x="848.5" dy="4">新規パネルを</tspan><tspan x="848.5" dy="3.5">増やす</tspan></text></g>
<g id="np26"><rect class="o" x="943" y="788" width="29" height="29"/><text class="s" x="957.5" y="801"><tspan x="957.5">ネットワーク</tspan><tspan x="957.5" dy="3.5">パネル</tspan></text></g>
<g id="np27"><rect class="r" x="943" y="825" width="29" height="29"/><text class="s" x="957.5" y="834"><tspan x="957.5">新規パネルを</tspan><tspan x="957.5" dy="3.5">増やしたまま</tspan><tspan x="957.5" dy="3.5">入る</tspan></text></g>
</g>
<g id="explore">
<g id="ex1"><rect class="b" x="1091" y="662" width="29" height="29"/><text class="s" x="1105.5" y="678">データ活用</text></g>
<g id="ex2"><rect class="g" x="1091" y="700" width="29" height="29"/><text class="s" x="1105.5" y="709"><tspan x="1105.5">ニュースに</tspan><tspan x="1105.5" dy="3.5">使えるネタを</tspan><tspan x="1105.5" dy="3.5">探す</tspan></text></g>
<g id="ex3"><rect class="g" x="1130" y="700" width="29" height="29"/><text class="s" x="1144.5" y="717" font-size="3.8">障害対応</text></g>
<g id="ex4"><rect class="o" x="1091" y="741" width="29" height="29"/><text class="s" x="1105.5" y="754"><tspan x="1105.5">シンプルパネル</tspan><tspan x="1105.5" dy="3.5">を見やすくする</tspan></text></g>
<g id="ex5"><rect class="g" x="1130" y="741" width="29" height="29"/><text class="s" x="1144.5" y="752"><tspan x="1144.5">どうにか</tspan><tspan x="1144.5" dy="3.5">探索を楽にする</tspan><tspan x="1144.5" dy="3.5">データを探せる</tspan></text></g>
<g id="ex6"><rect class="g" x="1091" y="781" width="29" height="29"/><text class="s" x="1105.5" y="794"><tspan x="1105.5">データを見て</tspan><tspan x="1105.5" dy="3.5">放送を考える</tspan></text></g>
<g id="ex7"><rect class="g" x="1130" y="781" width="29" height="29"/><text class="s" x="1144.5" y="794"><tspan x="1144.5">データ価値を</tspan><tspan x="1144.5" dy="3.5">見直す</tspan></text></g>
<g id="ex8"><rect class="o" x="1203" y="690" width="29" height="29"/><text class="s" x="1217.5" y="702" font-size="3.8"><tspan x="1217.5">検索項目</tspan><tspan x="1217.5" dy="5">を増やす</tspan></text></g>
<g id="ex9"><rect class="r" x="1251" y="690" width="29" height="29"/><text class="s" x="1265.5" y="703"><tspan x="1265.5">データセット</tspan><tspan x="1265.5" dy="3.5">1.0</tspan></text></g>
<g id="ex10"><rect class="y" x="1203" y="741" width="29" height="29"/><text class="s" x="1217.5" y="751"><tspan x="1217.5" font-size="3.6">★★★</tspan><tspan x="1217.5" dy="4">検索</tspan><tspan x="1217.5" dy="3.5">(パネル探索)</tspan></text></g>
<g id="ex11"><rect class="o" x="1251" y="741" width="29" height="29"/><text class="s" x="1265.5" y="757" font-size="3.8">データ整理</text></g>
<g id="ex12"><rect class="o" x="1299" y="741" width="29" height="29"/><text class="s" x="1313.5" y="754"><tspan x="1313.5">パネル整理の方</tspan><tspan x="1313.5" dy="3.5">向性を決める</tspan></text></g>
<g id="ex13"><rect class="p" x="1350" y="741" width="29" height="29"/><text class="s" x="1364.5" y="751"><tspan x="1364.5">数値系の</tspan><tspan x="1364.5" dy="3.5">データ</tspan><tspan x="1364.5" dy="3.5">フォーマット</tspan></text></g>
<g id="ex14"><rect class="o" x="1350" y="697" width="29" height="29"/><text class="m" x="1364.5" y="714" font-size="5">パネル</text></g>
<g id="ex15"><rect class="o" x="1251" y="782" width="29" height="29"/><text class="s" x="1265.5" y="794" font-size="3.8"><tspan x="1265.5">データの</tspan><tspan x="1265.5" dy="5">レコメンド</tspan></text></g>
</g>
</g>
</svg>
